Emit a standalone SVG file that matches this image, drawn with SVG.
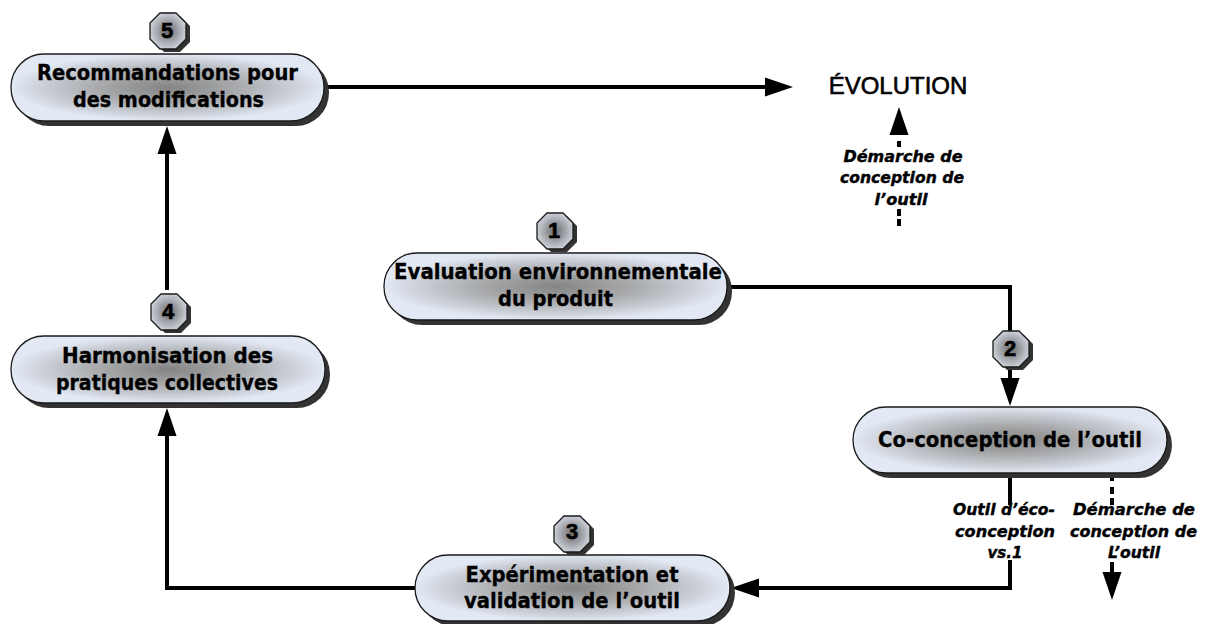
<svg xmlns="http://www.w3.org/2000/svg" width="1207" height="624" viewBox="0 0 1207 624">
<defs>
<radialGradient id="g" cx="0.5" cy="0.5" r="0.5">
<stop offset="0" stop-color="#848484"/><stop offset="0.45" stop-color="#a8aaac"/><stop offset="0.85" stop-color="#d0d5de"/><stop offset="1" stop-color="#e3e9f4"/>
</radialGradient>
<radialGradient id="o" cx="0.5" cy="0.5" r="0.6">
<stop offset="0" stop-color="#6a6a6a"/><stop offset="1" stop-color="#dde2ec"/>
</radialGradient>
<polygon id="oct" points="-8,-18 8,-18 18,-8 18,8 8,18 -8,18 -18,8 -18,-8"/>
<marker id="a" markerUnits="userSpaceOnUse" markerWidth="30" markerHeight="20" refX="18" refY="10" orient="auto"><path d="M0,0.500 L28,10 L0,19.500 Z" fill="#000"/></marker>
</defs>
<style>
.b{fill:url(#g);stroke:#1a1a1a;stroke-width:1.3}
.s{fill:#333}
.o{fill:url(#o);stroke:#1a1a1a;stroke-width:1.3}
.t{font-family:"DejaVu Sans",sans-serif;font-weight:700;font-size:22px;text-anchor:middle;fill:#000;stroke:#000;stroke-width:.35}
.n{font-family:"Liberation Sans",sans-serif;font-weight:700;font-size:22px;text-anchor:middle;fill:#000;stroke:#000;stroke-width:.6}
.i{font-family:"DejaVu Sans",sans-serif;font-weight:700;font-style:italic;font-size:16.500px;text-anchor:middle;fill:#000;stroke:#000;stroke-width:.4}
.e{font-family:"Liberation Sans",sans-serif;font-size:24px;text-anchor:middle;fill:#000;stroke:#000;stroke-width:.6}
.l{fill:none;stroke:#000;stroke-width:4}
</style>
<g id="connectors">
<path class="l" d="M324,87 H783" marker-end="url(#a)"/>
<path class="l" d="M167,290 V136" marker-end="url(#a)"/>
<path class="l" d="M727,287 H1010 V396" marker-end="url(#a)"/>
<path class="l" d="M1010,473 V505 M1010,560 V588 H741" marker-end="url(#a)"/>
<path class="l" d="M415,588 H167 V418" marker-end="url(#a)"/>
<path class="l" d="M899,226 V219 M899,216 V209 M899,147 V141"/>
<path class="l" d="M899,125 V117" marker-end="url(#a)"/>
<path class="l" d="M1112,473 V481 M1112,487 V494 M1112,498 V505 M1112,562 V590" marker-end="url(#a)"/>
</g>
<g id="node-5">
<rect class="s" x="16" y="59" width="313" height="67" rx="33"/>
<rect class="b" x="11" y="54" width="313" height="67" rx="33"/>
<text class="t"><tspan x="167.500" y="80" textLength="261" lengthAdjust="spacingAndGlyphs">Recommandations pour</tspan><tspan x="168.500" y="107" textLength="191" lengthAdjust="spacingAndGlyphs">des modifications</tspan></text>
<use href="#oct" x="172" y="34" class="s"/><use href="#oct" x="168" y="31" class="o"/>
<text class="n" x="167" y="38">5</text>
</g>
<g id="node-1">
<rect class="s" x="389" y="258" width="343" height="67" rx="33"/>
<rect class="b" x="384" y="253" width="343" height="67" rx="33"/>
<text class="t"><tspan x="558" y="279" textLength="328" lengthAdjust="spacingAndGlyphs">Evaluation environnementale</tspan><tspan x="555.500" y="306" textLength="115" lengthAdjust="spacingAndGlyphs">du produit</tspan></text>
<use href="#oct" x="559" y="234" class="s"/><use href="#oct" x="555" y="231" class="o"/>
<text class="n" x="554" y="238">1</text>
</g>
<g id="node-2">
<use href="#oct" x="1015" y="352" class="s"/><use href="#oct" x="1011" y="349" class="o"/>
<text class="n" x="1010" y="356">2</text>
</g>
<g id="node-co">
<rect class="s" x="858" y="412" width="314" height="66" rx="33"/>
<rect class="b" x="853" y="407" width="314" height="66" rx="33"/>
<text class="t" x="1010" y="447" textLength="264" lengthAdjust="spacingAndGlyphs">Co-conception de l’outil</text>
</g>
<g id="node-3">
<rect class="s" x="420" y="560" width="315" height="66" rx="33"/>
<rect class="b" x="415" y="555" width="315" height="66" rx="33"/>
<text class="t"><tspan x="572" y="582" textLength="213" lengthAdjust="spacingAndGlyphs">Expérimentation et</tspan><tspan x="572" y="608" textLength="216" lengthAdjust="spacingAndGlyphs">validation de l’outil</tspan></text>
<use href="#oct" x="576" y="537" class="s"/><use href="#oct" x="572" y="534" class="o"/>
<text class="n" x="572" y="539">3</text>
</g>
<g id="node-4">
<rect class="s" x="16" y="341" width="314" height="67" rx="33"/>
<rect class="b" x="11" y="336" width="314" height="67" rx="33"/>
<text class="t"><tspan x="167.500" y="363" textLength="211" lengthAdjust="spacingAndGlyphs">Harmonisation des</tspan><tspan x="167" y="390" textLength="222" lengthAdjust="spacingAndGlyphs">pratiques collectives</tspan></text>
<use href="#oct" x="173" y="315" class="s"/><use href="#oct" x="169" y="312" class="o"/>
<text class="n" x="168" y="319">4</text>
</g>
<g id="labels">
<text class="e" x="898" y="94">ÉVOLUTION</text>
<text class="i"><tspan x="903" y="162" textLength="119" lengthAdjust="spacingAndGlyphs">Démarche de</tspan><tspan x="902" y="183" textLength="124" lengthAdjust="spacingAndGlyphs">conception de</tspan><tspan x="901" y="205" textLength="53" lengthAdjust="spacingAndGlyphs">l’outil</tspan></text>
<text class="i"><tspan x="1004" y="515" textLength="102" lengthAdjust="spacingAndGlyphs">Outil d’éco-</tspan><tspan x="1005" y="537" textLength="100" lengthAdjust="spacingAndGlyphs">conception</tspan><tspan x="1005" y="558" textLength="35" lengthAdjust="spacingAndGlyphs">vs.1</tspan></text>
<text class="i"><tspan x="1134" y="515" textLength="122" lengthAdjust="spacingAndGlyphs">Démarche de</tspan><tspan x="1133.500" y="537" textLength="127" lengthAdjust="spacingAndGlyphs">conception de</tspan><tspan x="1134" y="558" textLength="52" lengthAdjust="spacingAndGlyphs">L’outil</tspan></text>
</g>
</svg>
